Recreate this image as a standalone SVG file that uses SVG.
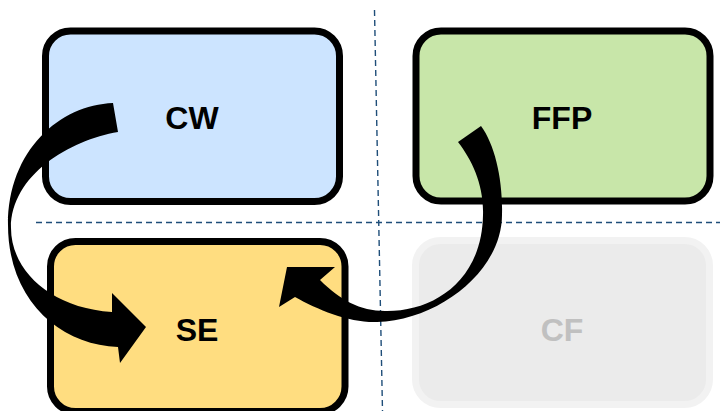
<svg xmlns="http://www.w3.org/2000/svg" width="720" height="411" viewBox="0 0 720 411">
  <style>
    .box { stroke: #000; stroke-width: 7; }
    .lbl { font-family: "Liberation Sans", Arial, sans-serif; font-weight: bold; font-size: 32px; text-anchor: middle; fill: #000; }
    .grid { stroke: #1f4e79; stroke-width: 1.4; stroke-dasharray: 6 4; fill: none; }
    .arrow { fill: #000; stroke: none; }
  </style>
  <rect width="720" height="411" fill="#fff"/>

  <!-- quadrant guides -->
  <g id="guides">
    <line class="grid" x1="36" y1="222.5" x2="720" y2="222.5"/>
    <line class="grid" x1="374.5" y1="10" x2="382.5" y2="411"/>
  </g>

  <g id="node-cw">
    <rect class="box" x="45.5" y="31" width="294" height="170.5" rx="25" fill="#cce4ff"/>
    <text class="lbl" x="192" y="129">CW</text>
  </g>
  <g id="node-ffp">
    <rect class="box" x="416" y="31" width="294" height="170" rx="25" fill="#c8e6a9"/>
    <text class="lbl" x="562" y="129">FFP</text>
  </g>
  <g id="node-se">
    <rect class="box" x="50.5" y="241.5" width="294.5" height="170" rx="25" fill="#ffdd80"/>
    <text class="lbl" x="197" y="341">SE</text>
  </g>
  <g id="node-cf">
    <rect x="415.5" y="240.5" width="294" height="164" rx="25" fill="#ebebeb" stroke="#f2f2f2" stroke-width="7"/>
    <text class="lbl" x="562" y="341" style="fill:#c0c0c0">CF</text>
  </g>

  <!-- curved block arrows -->
  <g id="connectors">
    <path class="arrow" d="M113,103 C60,105 8,150 8,225 C8,300 60,345 118,347 L120,363 L146,327 L112,293 L112,312 C50,308 11,270 11,228 C11,175 70,140 118,132 Z"/>
    <path class="arrow" d="M481,126 C495,145 503,180 502,215 C502,270 440,320 377,322 C350,323 318,310 295,297 L279,307 L287,267 L335,267 L320,280 C340,300 360,311 385,311 C432,312 482,282 483,215 C484,185 472,160 458,142 Z"/>
  </g>
</svg>
